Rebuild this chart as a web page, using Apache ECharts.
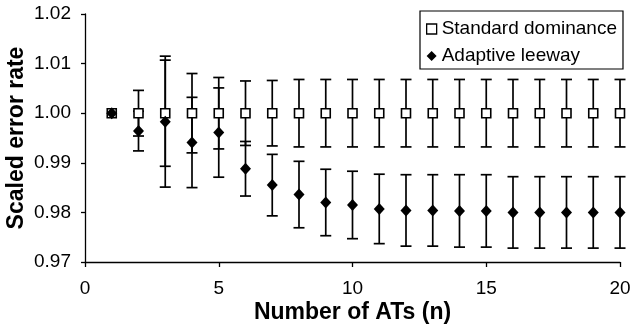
<!DOCTYPE html>
<html>
<head>
<meta charset="utf-8">
<script src="https://cdn.jsdelivr.net/npm/echarts@6/dist/echarts.min.js"></script>
<style>
html, body { margin: 0; padding: 0; background: #fff; }
#chart { width: 630px; height: 324px; }
</style>
</head>
<body>
<div id="chart"></div>
<script>
var nValues = [1, 2, 3, 4, 5, 6, 7, 8, 9, 10, 11, 12, 13, 14, 15, 16, 17, 18, 19, 20];
var stdMean = [1, 1, 1, 1, 1, 1, 1, 1, 1, 1, 1, 1, 1, 1, 1, 1, 1, 1, 1, 1];
var stdErr = [0, 0.0046, 0.0107, 0.0080, 0.0072, 0.0065, 0.0066, 0.0068, 0.0068, 0.0068,
    0.0068, 0.0068, 0.0068, 0.0068, 0.0068, 0.0068, 0.0068, 0.0068, 0.0068, 0.0068];
var adaptMean = [1.0, 0.9964, 0.9983, 0.9941, 0.9961, 0.9888, 0.9855, 0.9836, 0.9820, 0.9815,
    0.9807, 0.9804, 0.9804, 0.9803, 0.9803, 0.9800, 0.9800, 0.9800, 0.9800, 0.9800];
var adaptErr = [0, 0.0040, 0.0132, 0.0091, 0.0090, 0.0055, 0.0062, 0.0067, 0.0067, 0.0068,
    0.0070, 0.0072, 0.0072, 0.0073, 0.0073, 0.0072, 0.0072, 0.0072, 0.0072, 0.0072];
var xTicks = [0, 5, 10, 15, 20];
var yTicks = [0.97, 0.98, 0.99, 1.00, 1.01, 1.02];

var font = 'Arial, "Liberation Sans", sans-serif';

function points(means) {
    return nValues.map(function (n, i) { return [n, means[i]]; });
}
function bars(means, errs) {
    var out = [];
    nValues.forEach(function (n, i) {
        if (errs[i] > 0) out.push([n, means[i] - errs[i], means[i] + errs[i]]);
    });
    return out;
}
// error bar: vertical line plus two caps
function errorBar(params, api) {
    var lo = api.coord([api.value(0), api.value(1)]);
    var hi = api.coord([api.value(0), api.value(2)]);
    var w = 5.5;
    var st = { stroke: '#000', lineWidth: 1.7 };
    return {
        type: 'group',
        children: [
            { type: 'line', shape: { x1: lo[0], y1: lo[1], x2: hi[0], y2: hi[1] }, style: st },
            { type: 'line', shape: { x1: lo[0] - w, y1: lo[1], x2: lo[0] + w, y2: lo[1] }, style: st },
            { type: 'line', shape: { x1: hi[0] - w, y1: hi[1], x2: hi[0] + w, y2: hi[1] }, style: st }
        ]
    };
}

var chart = echarts.init(document.getElementById('chart'), null, { renderer: 'canvas' });
var option = {
    animation: false,
    textStyle: { fontFamily: font },
    grid: { left: 85, right: 10, top: 14, bottom: 62, containLabel: false, outerBoundsMode: 'none' },
    legend: {
        orient: 'vertical',
        left: 420,
        top: 11,
        padding: [6, 6, 1, 6],
        itemGap: 3,
        itemWidth: 10,
        itemHeight: 10,
        borderColor: '#000',
        borderWidth: 1.2,
        backgroundColor: '#fff',
        textStyle: { fontSize: 19, color: '#000', lineHeight: 24 },
        data: [
            { name: 'Standard dominance', icon: 'rect', itemStyle: { color: '#fff', borderColor: '#000', borderWidth: 1.3 } },
            { name: 'Adaptive leeway', icon: 'diamond', itemStyle: { color: '#000', borderWidth: 0 } }
        ]
    },
    xAxis: {
        type: 'value',
        min: 0,
        max: 20,
        interval: 5,
        name: 'Number of ATs (n)',
        nameLocation: 'middle',
        nameGap: 39,
        nameMoveOverlap: false,
        nameTextStyle: { fontSize: 23, fontWeight: 'bold', color: '#000' },
        axisLine: { show: true, onZero: false, lineStyle: { color: '#000', width: 1.3 } },
        axisTick: { show: true, length: 5, lineStyle: { color: '#000', width: 1.3 } },
        axisLabel: { fontSize: 19, color: '#000', margin: 17 },
        splitLine: { show: false }
    },
    yAxis: {
        type: 'value',
        min: 0.97,
        max: 1.02,
        interval: 0.01,
        name: 'Scaled error rate',
        nameLocation: 'middle',
        nameGap: 57,
        nameMoveOverlap: false,
        nameTextStyle: { fontSize: 23, fontWeight: 'bold', color: '#000' },
        axisLine: { show: true, onZero: false, lineStyle: { color: '#000', width: 1.3 } },
        axisTick: { show: true, length: 4, lineStyle: { color: '#000', width: 1.3 } },
        axisLabel: {
            fontSize: 19, color: '#000', margin: 14,
            formatter: function (v) { return v.toFixed(2); }
        },
        splitLine: { show: false }
    },
    series: [
        {
            type: 'custom',
            name: 'stdErr',
            renderItem: errorBar,
            data: bars(stdMean, stdErr),
            encode: { x: 0, y: [1, 2] },
            z: 2
        },
        {
            type: 'custom',
            name: 'adaptErr',
            renderItem: errorBar,
            data: bars(adaptMean, adaptErr),
            encode: { x: 0, y: [1, 2] },
            z: 2
        },
        {
            type: 'scatter',
            name: 'Standard dominance',
            symbol: 'rect',
            symbolSize: 9,
            itemStyle: { color: '#fff', borderColor: '#000', borderWidth: 1.6, opacity: 1 },
            data: points(stdMean),
            z: 3
        },
        {
            type: 'scatter',
            name: 'Adaptive leeway',
            symbol: 'diamond',
            symbolSize: [11, 12],
            itemStyle: { color: '#000', opacity: 1 },
            data: points(adaptMean),
            z: 4
        }
    ]
};
chart.setOption(option);
window.addEventListener('resize', function () {
    chart.resize();
});
</script>
</body>
</html>
